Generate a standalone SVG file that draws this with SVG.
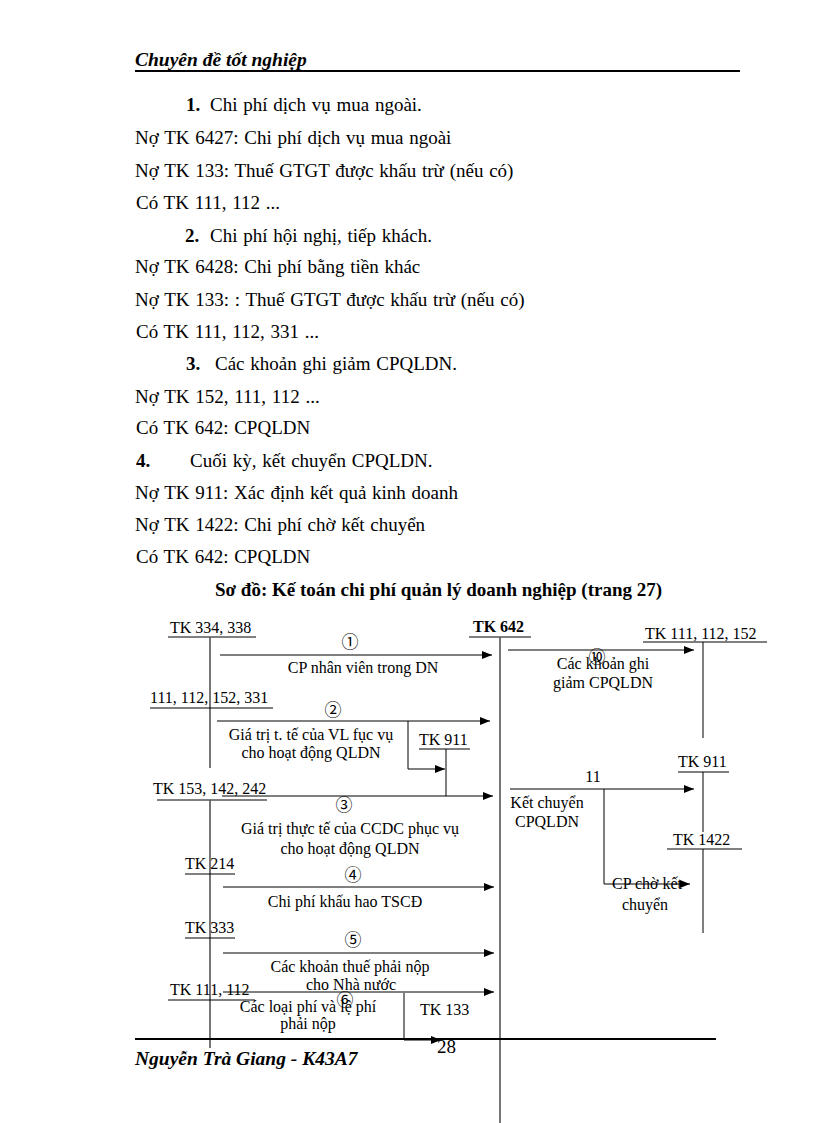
<svg xmlns="http://www.w3.org/2000/svg" width="816" height="1123" viewBox="0 0 816 1123">
<style>
.t{font-family:"Liberation Serif","Times New Roman",serif;font-size:19px;word-spacing:1px;fill:#000}
.b{font-weight:bold}
.ti{font-family:"Liberation Serif","Times New Roman",serif;font-size:19px;font-weight:bold;fill:#000}
.hd{font-family:"Liberation Serif","Times New Roman",serif;font-size:19.5px;font-weight:bold;font-style:italic;fill:#000}
.d{font-family:"Liberation Serif","Times New Roman",serif;font-size:16px;fill:#000}
.c{font-family:"Liberation Serif","Noto Sans CJK JP","DejaVu Sans",serif;font-size:17px;fill:#000}
.m{text-anchor:middle}
.ln{stroke:#000;stroke-width:1;fill:none}
.v{stroke:#555;stroke-width:1.6;fill:none}
.ar{stroke:#000;stroke-width:1;fill:none;marker-end:url(#ah)}
.rule{stroke:#000;stroke-width:2.2}
</style>
<defs>
<marker id="ah" viewBox="0 0 10 8" refX="10" refY="4" markerWidth="10" markerHeight="8" markerUnits="userSpaceOnUse" orient="auto">
<path d="M0,0 L10,4 L0,8 Z" fill="#000"/>
</marker>
</defs>
<rect width="816" height="1123" fill="#fff"/>

<g id="header">
<text class="hd" x="135" y="66">Chuyên đề tốt nghiệp</text>
<line class="rule" x1="135" y1="71" x2="740" y2="71"/>
</g>

<g id="body">
<text class="t" x="186" y="111"><tspan class="b">1.</tspan><tspan x="210">Chi phí dịch vụ mua ngoài.</tspan></text>
<text class="t" x="135" y="144">Nợ TK 6427:  Chi phí dịch vụ mua ngoài</text>
<text class="t" x="135" y="177">Nợ TK 133:  Thuế GTGT được khấu trừ (nếu có)</text>
<text class="t" x="136" y="209">Có TK 111, 112 ...</text>
<text class="t" x="185" y="242"><tspan class="b">2.</tspan><tspan x="210">Chi phí hội nghị,  tiếp khách.</tspan></text>
<text class="t" x="135" y="273">Nợ TK 6428:  Chi phí bằng tiền  khác</text>
<text class="t" x="135" y="306">Nợ TK 133: : Thuế GTGT được khấu trừ (nếu có)</text>
<text class="t" x="136" y="338">Có TK 111, 112, 331  ...</text>
<text class="t" x="186" y="370"><tspan class="b">3.</tspan><tspan x="215">Các khoản ghi giảm  CPQLDN.</tspan></text>
<text class="t" x="135" y="403">Nợ TK 152, 111, 112 ...</text>
<text class="t" x="136" y="434">Có TK 642:  CPQLDN</text>
<text class="t" x="136" y="467"><tspan class="b">4.</tspan><tspan x="190">Cuối kỳ, kết chuyển  CPQLDN.</tspan></text>
<text class="t" x="135" y="499">Nợ TK 911:  Xác định kết  quả kinh  doanh</text>
<text class="t" x="135" y="531">Nợ TK 1422:  Chi phí chờ kết  chuyển</text>
<text class="t" x="136" y="563">Có TK 642:  CPQLDN</text>
<text class="ti" x="215" y="596">Sơ đồ: Kế toán chi phí quản lý doanh nghiệp (trang 27)</text>
</g>

<g id="tk642">
<text class="d b" x="473" y="632">TK 642</text>
<line class="ln" x1="469" y1="637" x2="531" y2="637"/>
<line class="v" x1="500" y1="637" x2="500" y2="1123"/>
</g>

<g id="tk334">
<text class="d" x="170" y="633">TK 334, 338</text>
<line class="ln" x1="168" y1="637" x2="256" y2="637"/>
<line class="v" x1="210" y1="637" x2="210" y2="768"/>
</g>

<g id="tk111a">
<text class="d" x="150" y="703">111, 112, 152, 331</text>
<line class="ln" x1="150" y1="708" x2="273" y2="708"/>
</g>

<g id="tk911a">
<text class="d" x="419" y="745">TK 911</text>
<line class="ln" x1="419" y1="749" x2="470" y2="749"/>
<line class="ln" x1="446" y1="749" x2="446" y2="796"/>
</g>

<g id="tk153">
<text class="d" x="153" y="794">TK 153, 142, 242</text>
<line class="ln" x1="157" y1="800" x2="267" y2="800"/>
<line class="v" x1="210" y1="800" x2="210" y2="1048"/>
</g>

<g id="tk214">
<text class="d" x="185" y="869">TK 214</text>
<line class="ln" x1="185" y1="874" x2="235" y2="874"/>
</g>

<g id="tk333">
<text class="d" x="185" y="933">TK 333</text>
<line class="ln" x1="185" y1="938" x2="235" y2="938"/>
</g>

<g id="tk111b">
<text class="d" x="170" y="995">TK 111, 112</text>
<line class="ln" x1="168" y1="1000" x2="255" y2="1000"/>
</g>

<g id="tk133">
<text class="d" x="420" y="1015">TK 133</text>
</g>

<g id="tk111c">
<text class="d" x="645" y="639">TK 111, 112, 152</text>
<line class="ln" x1="643" y1="642" x2="767" y2="642"/>
<line class="ln" x1="703" y1="642" x2="703" y2="738"/>
</g>

<g id="tk911b">
<text class="d" x="678" y="767">TK 911</text>
<line class="ln" x1="678" y1="772" x2="729" y2="772"/>
<line class="ln" x1="703" y1="772" x2="703" y2="832"/>
</g>

<g id="tk1422">
<text class="d" x="673" y="845">TK 1422</text>
<line class="ln" x1="667" y1="849" x2="742" y2="849"/>
<line class="ln" x1="703" y1="849" x2="703" y2="933"/>
</g>

<g id="connectors">
<line class="ar" x1="220" y1="655" x2="492" y2="655"/>
<text class="c m" x="350" y="648">①</text>
<text class="d m" x="363" y="673">CP nhân  viên  trong  DN</text>

<line class="ar" x1="217" y1="721" x2="490" y2="721"/>
<text class="c m" x="333" y="716">②</text>
<text class="d m" x="311" y="740">Giá trị t. tế của VL fục  vụ</text>
<text class="d m" x="311" y="758">cho hoạt động QLDN</text>
<polyline class="ar" points="408,721 408,769 445,769"/>

<line class="ar" x1="222" y1="796" x2="493" y2="796"/>
<text class="c m" x="344" y="811">③</text>
<text class="d m" x="350" y="834">Giá trị thực tế của CCDC phục vụ</text>
<text class="d m" x="350" y="854">cho hoạt động QLDN</text>

<line class="ar" x1="223" y1="887" x2="494" y2="887"/>
<text class="c m" x="353" y="881">④</text>
<text class="d m" x="345" y="907">Chi phí khấu hao TSCĐ</text>

<line class="ar" x1="223" y1="953" x2="494" y2="953"/>
<text class="c m" x="353" y="946">⑤</text>
<text class="d m" x="350" y="972">Các khoản  thuế  phải  nộp</text>
<text class="d m" x="351" y="990">cho Nhà nước</text>

<line class="ar" x1="223" y1="992" x2="494" y2="992"/>
<text class="c m" x="345" y="1006">⑥</text>
<text class="d m" x="308" y="1012">Các loại  phí  và lệ  phí</text>
<text class="d m" x="308" y="1029">phải  nộp</text>
<polyline class="ar" points="404,993 404,1040 441,1040"/>

<line class="ar" x1="508" y1="650" x2="694" y2="650"/>
<text class="c m" x="597" y="663">⑩</text>
<text class="d m" x="603" y="669">Các khoản  ghi</text>
<text class="d m" x="603" y="688">giảm  CPQLDN</text>

<line class="ar" x1="510" y1="789" x2="694" y2="789"/>
<text class="d m" x="593" y="782">11</text>
<text class="d m" x="547" y="808">Kết chuyển</text>
<text class="d m" x="547" y="827">CPQLDN</text>
<polyline class="ar" points="604,789 604,884 690,884"/>
<text class="d m" x="647" y="889">CP chờ kết</text>
<text class="d m" x="645" y="910">chuyển</text>
</g>

<g id="footer">
<line class="rule" x1="135" y1="1039" x2="716" y2="1039"/>
<text class="t" x="437" y="1053">28</text>
<text class="hd" x="135" y="1065">Nguyễn Trà Giang - K43A7</text>
</g>
</svg>
